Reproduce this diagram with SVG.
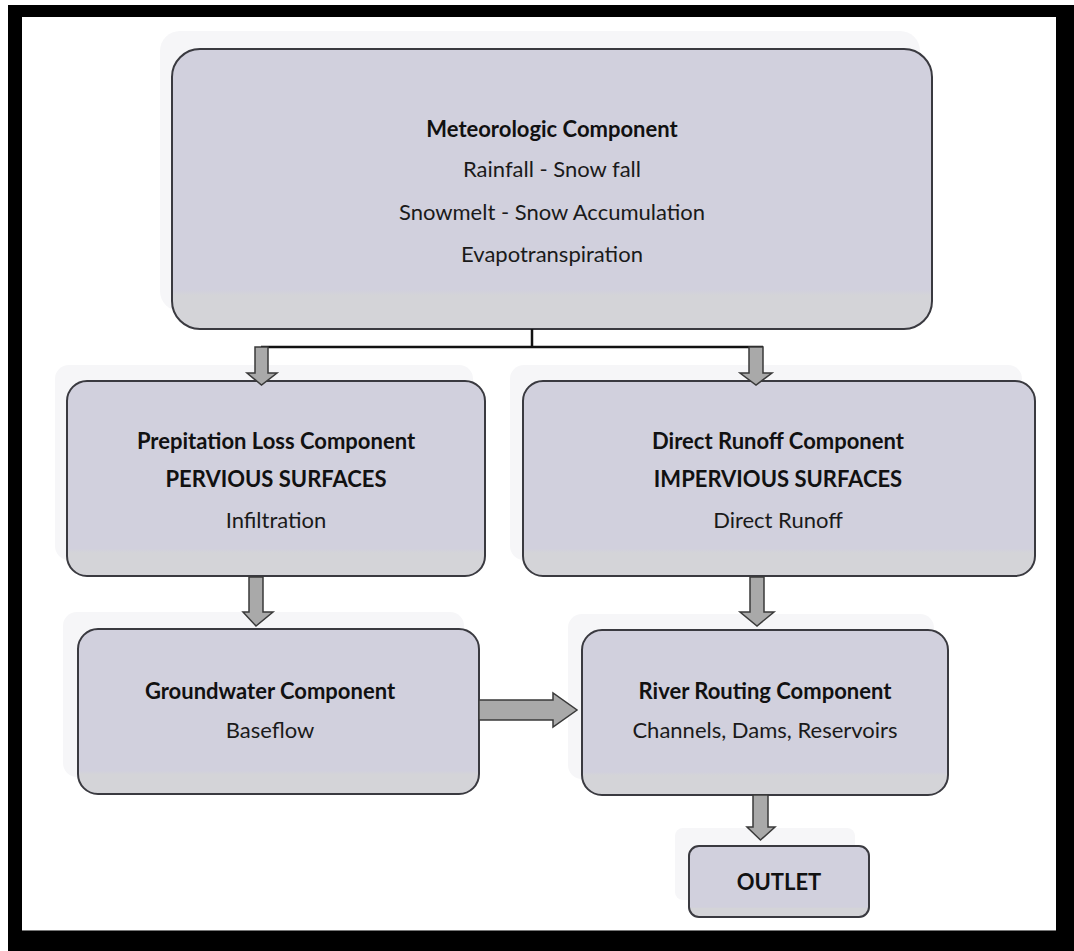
<svg xmlns="http://www.w3.org/2000/svg" width="1074" height="951" viewBox="0 0 1074 951">
<style>
.box{fill:url(#g);stroke:#3a3a40;stroke-width:2}
.glow{fill:#f6f6f8;stroke:none}
.t{font-family:Lato,"Liberation Sans",sans-serif;font-size:22px;fill:#1a1a1a;text-anchor:middle}
.b{font-weight:bold;fill:#111}
.arr{fill:#a9a9a9;stroke:#3a3a3a;stroke-width:1.5}
.ln{stroke:#111;stroke-width:2.5;fill:none}
</style>
<defs>
<linearGradient id="g" x1="0" y1="0" x2="0" y2="1">
<stop offset="0" stop-color="#d1d0dd"/>
<stop offset="0.86" stop-color="#d1d0dd"/>
<stop offset="0.88" stop-color="#d4d4d8"/>
<stop offset="1" stop-color="#d4d4d8"/>
</linearGradient>
</defs>
<rect x="0" y="0" width="1074" height="951" fill="#fff"/>
<rect x="8" y="5" width="1066" height="946" fill="#000"/>
<rect x="22" y="17" width="1034" height="914" fill="#fff"/>
<line x1="22" y1="930.5" x2="1056" y2="930.5" stroke="#777" stroke-width="1"/>

<g id="meteorologic">
<rect class="glow" x="160" y="31" width="760" height="280" rx="20"/>
<rect class="box" x="172" y="49" width="760" height="280" rx="28"/>
<text class="t b" x="552" y="137">Meteorologic Component</text>
<text class="t" x="552" y="177">Rainfall - Snow fall</text>
<text class="t" x="552" y="220">Snowmelt - Snow Accumulation</text>
<text class="t" x="552" y="262">Evapotranspiration</text>
</g>

<g id="precipitation">
<rect class="glow" x="55" y="365" width="418" height="195" rx="14"/>
<rect class="box" x="67" y="381" width="418" height="195" rx="20"/>
<text class="t b" x="276" y="449">Prepitation Loss Component</text>
<text class="t b" x="276" y="487">PERVIOUS SURFACES</text>
<text class="t" x="276" y="528">Infiltration</text>
</g>

<g id="directrunoff">
<rect class="glow" x="510" y="365" width="512" height="195" rx="14"/>
<rect class="box" x="523" y="381" width="512" height="195" rx="20"/>
<text class="t b" x="778" y="449">Direct Runoff Component</text>
<text class="t b" x="778" y="487">IMPERVIOUS SURFACES</text>
<text class="t" x="778" y="528">Direct Runoff</text>
</g>

<g id="groundwater">
<rect class="glow" x="63" y="612" width="401" height="165" rx="14"/>
<rect class="box" x="78" y="629" width="401" height="165" rx="20"/>
<text class="t b" x="270" y="699">Groundwater Component</text>
<text class="t" x="270" y="738">Baseflow</text>
</g>

<g id="riverrouting">
<rect class="glow" x="568" y="614" width="366" height="165" rx="14"/>
<rect class="box" x="582" y="630" width="366" height="165" rx="20"/>
<text class="t b" x="765" y="699">River Routing Component</text>
<text class="t" x="765" y="738">Channels, Dams, Reservoirs</text>
</g>

<g id="outlet">
<rect class="glow" x="675" y="828" width="180" height="72" rx="8"/>
<rect class="box" x="689" y="846" width="180" height="71" rx="10"/>
<text class="t b" x="779" y="890">OUTLET</text>
</g>

<g id="connectors">
<path class="ln" d="M532 329 V347 M261 347 H763"/>
<path class="arr" d="M255 347 H268 V373 H277 L261.5 385 L247 373 H255 Z"/>
<path class="arr" d="M749 347 H763 V373 H772 L756 385 L740 373 H749 Z"/>
<path class="arr" d="M249 577 H263 V612 H273 L256 626 L243 612 H249 Z"/>
<path class="arr" d="M750 577 H764 V612 H774 L757 626 L740 612 H750 Z"/>
<path class="arr" d="M753 795 H768 V827 H775 L760.5 840 L747 827 H753 Z"/>
<path class="arr" d="M479 700 H553 V693 L577 710 L553 727 V720 H479 Z"/>
</g>
</svg>
